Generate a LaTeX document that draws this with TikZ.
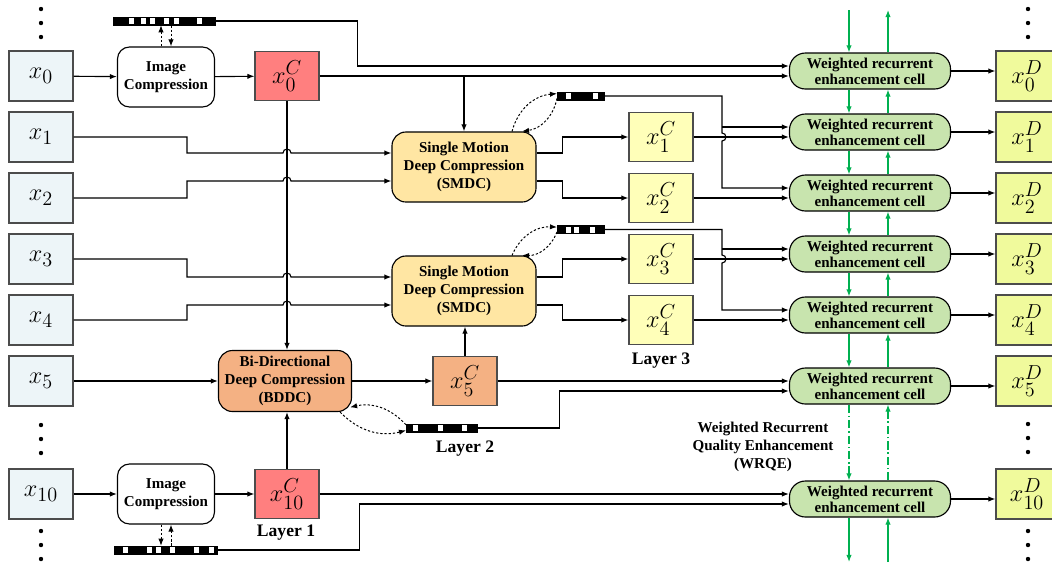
\documentclass[tikz,border=0pt]{standalone}
\usepackage{amsmath}
\usepackage[no-math]{fontspec}
\setmainfont{Liberation Serif}
\usepackage{tikz}
\usetikzlibrary{shapes,arrows.meta,positioning}

\definecolor{inblue}{HTML}{EDF5F8}
\definecolor{cred}{HTML}{FF7F7F}
\definecolor{corange}{HTML}{F4B183}
\definecolor{cyellow}{HTML}{FFFFB9}
\definecolor{dlime}{HTML}{F0FA9C}
\definecolor{smdcfill}{HTML}{FFE6A3}
\definecolor{cellgreen}{HTML}{C8E4AE}
\definecolor{wgreen}{HTML}{00B050}

\newcommand{\boxfont}{\fontsize{19}{21}\selectfont}
\newcommand{\lblfont}{\fontsize{10.7}{13}\selectfont\bfseries}

\tikzset{
  inbox/.style={ draw=black!70, fill=inblue, minimum width=1.6cm, minimum height=1.25cm, inner sep=0pt, font=\boxfont }
}
\tikzset{
  cbox/.style={ draw=black!70, minimum width=1.6cm, minimum height=1.225cm, inner sep=0pt, font=\boxfont }
}
\tikzset{
  dbox/.style={ draw=black!70, fill=dlime, minimum width=1.55cm, minimum height=1.25cm, inner sep=0pt, font=\boxfont }
}
\tikzset{
  icbox/.style={ draw, rounded corners=0.3cm, fill=white, minimum width=2.425cm, minimum height=1.5cm, align=center, font=\lblfont }
}
\tikzset{
  mdbox/.style={ draw, rounded corners=0.35cm, fill=smdcfill, minimum width=3.6cm, minimum height=1.75cm, align=center, font=\lblfont }
}
\tikzset{
  bdbox/.style={ draw, rounded corners=0.35cm, fill=corange, minimum width=3.325cm, minimum height=1.525cm, align=center, font=\lblfont }
}
\tikzset{
  wcell/.style={ draw, rounded corners=0.4cm, fill=cellgreen, minimum width=4.025cm, minimum height=0.9cm, inner sep=0pt, align=center, font=\fontsize{10.7}{11.5}\selectfont\bfseries }
}
\tikzset{
  bits/.style={ draw, fill=black, rectangle, minimum height=0.2cm, inner sep=0pt, line width=0.4pt }
}
\tikzset{
  layerlbl/.style={ font=\fontsize{12.5}{14}\selectfont\bfseries }
}
\tikzset{
  dotarrow/.style={ ->, dash pattern=on 1.6pt off 1.4pt, line width=0.7pt }
}
\tikzset{
  garrow/.style={ ->, draw=wgreen, line width=0.8pt }
}

% bit stream: name, left x, centre y, width, white slots
\newcommand{\bitstream}[5]{%
  \node[bits, minimum width=#4, anchor=west] (#1) at (#2,#3) {};
  \foreach \w in {#5}
    \fill[white] (#2+\w,#3-3) rectangle ++(5,6);
}

\begin{document}
\begin{tikzpicture}[x=0.025cm, y=-0.025cm, line width=0.8pt, >={Latex[length=5pt,width=3.8pt]}]
      \useasboundingbox (0,0) rectangle (1052,562);

      % inputs
      \node[inbox] (x0) at (41,76) {$x_0$};
      \node[inbox] (x1) at (41,137) {$x_1$};
      \node[inbox] (x2) at (41,198) {$x_2$};
      \node[inbox] (x3) at (41,259) {$x_3$};
      \node[inbox] (x4) at (41,320) {$x_4$};
      \node[inbox] (x5) at (41,381) {$x_5$};
      \node[inbox] (x10) at (41,494) {$x_{10}$};

      % layer 1
      \node[icbox] (ic0) at (166,77) {Image\\Compression};
      \node[icbox] (ic10) at (166,494) {Image\\Compression};
      \node[cbox, fill=cred] (xc0) at (287,76) {$x_0^C$};
      \node[cbox, fill=cred] (xc10) at (287,494) {$x_{10}^C$};
      \bitstream{bs0}{113}{21}{2.55cm}{16,28,37,51,61,84}
      \bitstream{bs10}{114}{550}{2.575cm}{9,33,42,56,80,95}

      % layer 2
      \node[bdbox] (bddc) at (285,381) {Bi-Directional\\Deep Compression\\(BDDC)};
      \node[cbox, fill=corange] (xc5) at (465,381) {$x_5^C$};
      \bitstream{bs5}{406}{428}{1.775cm}{7,32,56}

      % layer 3
      \node[mdbox] (smdc1) at (464,167) {Single Motion\\Deep Compression\\(SMDC)};
      \node[mdbox] (smdc2) at (464,291) {Single Motion\\Deep Compression\\(SMDC)};
      \node[cbox, fill=cyellow] (xc1) at (661,137) {$x_1^C$};
      \node[cbox, fill=cyellow] (xc2) at (661,198) {$x_2^C$};
      \node[cbox, fill=cyellow] (xc3) at (661,259) {$x_3^C$};
      \node[cbox, fill=cyellow] (xc4) at (661,320) {$x_4^C$};
      \bitstream{bs1}{557}{96}{1.175cm}{9,36}
      \bitstream{bs3}{557}{229.5}{1.175cm}{9,17,33}

      \node[layerlbl] (lay1) at (286,533) {Layer 1};
      \node[layerlbl] (lay2) at (465,449) {Layer 2};
      \node[layerlbl] (lay3) at (661,361) {Layer 3};

      % WRQE
      \foreach \i/\y in {0/71,1/132,2/193,3/254,4/315,5/386,10/499} {
        \node[wcell] (cell\i) at (870,\y) {Weighted recurrent\\enhancement cell};
        \coordinate (in\i a) at ([yshift=0.125cm]cell\i.west);
        \coordinate (in\i b) at ([yshift=-0.125cm]cell\i.west);
      }
      \foreach \i/\y in {0/76,1/137,2/198,3/259,4/320,5/381,10/494}
        \node[dbox] (xd\i) at (1027,\y) {$x_{\i}^D$};
      \node[font=\lblfont, align=center] (wrqe) at (763,447) {Weighted Recurrent\\Quality Enhancement\\(WRQE)};

      \foreach \y in {9,23,37,425,439,453,531,545,559}
        \fill (41,\y) circle[radius=0.055cm];
      \foreach \y in {9,23,37,424,438,452,531,545,559}
        \fill (1028,\y) circle[radius=0.055cm];

      \begin{scope}[->]
        \draw (x0) -- (ic0);
        \draw (ic0) -- (xc0);
        \draw (x10) -- (ic10);
        \draw (ic10) -- (xc10);
        \draw (x5) -- (bddc);
        \draw (bddc) -- (xc5);
        \draw (xc0.south) -- (xc0.south |- bddc.north);
        \draw (xc10.north) -- (xc10.north |- bddc.south);
        \draw (xc5.north) -- (xc5.north |- smdc2.south);
        \draw (xc0.east -| smdc1.north) -- (smdc1.north);

        % inputs hopping over the x0C line
        \draw (x1.east) -- (187,137) |- (283,153) arc[start angle=180, end angle=0, radius=0.1cm] -- ([yshift=0.35cm]smdc1.west);
        \draw (x2.east) -- (187,198) |- (283,181) arc[start angle=180, end angle=0, radius=0.1cm] -- ([yshift=-0.35cm]smdc1.west);
        \draw (x3.east) -- (187,259) |- (283,277) arc[start angle=180, end angle=0, radius=0.1cm] -- ([yshift=0.35cm]smdc2.west);
        \draw (x4.east) -- (187,320) |- (283,305) arc[start angle=180, end angle=0, radius=0.1cm] -- ([yshift=-0.35cm]smdc2.west);

        \draw ([yshift=0.35cm]smdc1.east) -- ++(26,0) |- (xc1);
        \draw ([yshift=-0.35cm]smdc1.east) -- ++(26,0) |- (xc2);
        \draw ([yshift=0.35cm]smdc2.east) -- ++(26,0) |- (xc3);
        \draw ([yshift=-0.35cm]smdc2.east) -- ++(26,0) |- (xc4);

        % bit streams to the enhancement cells
        \draw (bs0.east) -- ++(142,0) |- (in0a);
        \draw (bs10.east) -- ++(142,0) |- (in10b);
        \draw (bs5.east) -- ++(82,0) |- (in5b);
        \coordinate (j1) at (722,96);
        \coordinate (j3) at (722,229.5);
        \draw (bs1.east) -- (j1) -- (722,133) arc[start angle=90, end angle=-90, radius=0.1cm] |- (in2a);
        \draw (in1a -| j1) -- (in1a);
        \draw (bs3.east) -- (j3) -- (722,255) arc[start angle=90, end angle=-90, radius=0.1cm] |- (in4a);
        \draw (in3a -| j3) -- (in3a);

        \draw (xc0.east) -- (xc0.east -| cell0.west);
        \draw (xc1.east) -- (xc1.east -| cell1.west);
        \draw (xc2.east) -- (xc2.east -| cell2.west);
        \draw (xc3.east) -- (xc3.east -| cell3.west);
        \draw (xc4.east) -- (xc4.east -| cell4.west);
        \draw (xc5.east) -- (xc5.east -| cell5.west);
        \draw (xc10.east) -- (xc10.east -| cell10.west);

        \foreach \i in {0,1,2,3,4,5,10}
          \draw (cell\i.east) -- (cell\i.east -| xd\i.west);
      \end{scope}

      % encode / decode
      \draw[dotarrow] ([xshift=-0.125cm]ic0.north) -- ([xshift=-0.125cm]ic0.north |- bs0.south);
      \draw[dotarrow] ([xshift=0.125cm]ic0.north |- bs0.south) -- ([xshift=0.125cm]ic0.north);
      \draw[dotarrow] ([xshift=-0.125cm]ic10.south) -- ([xshift=-0.125cm]ic10.south |- bs10.north);
      \draw[dotarrow] ([xshift=0.125cm]ic10.south |- bs10.north) -- ([xshift=0.125cm]ic10.south);
      \draw[dotarrow] ([xshift=1.2cm]smdc1.north) to[bend left=35] ([yshift=0.06cm]bs1.west);
      \draw[dotarrow] ([yshift=-0.06cm]bs1.west) to[bend left=35] ([xshift=1.45cm]smdc1.north);
      \draw[dotarrow] ([xshift=1.2cm]smdc2.north) to[bend left=35] ([yshift=0.06cm]bs3.west);
      \draw[dotarrow] ([yshift=-0.06cm]bs3.west) to[bend left=35] ([xshift=1.45cm]smdc2.north);
      \draw[dotarrow] ([xshift=-0.3cm]bddc.south east) to[bend right=30] ([yshift=-0.06cm]bs5.west);
      \draw[dotarrow] ([yshift=0.08cm]bs5.west) to[bend right=30] ([xshift=-0.05cm,yshift=0.12cm]bddc.south east);

      % recurrent links
      \coordinate (gtop) at (0,10);
      \coordinate (gbot) at (0,562);
      \draw[garrow] ([xshift=-0.525cm]cell0.north |- gtop) -- ([xshift=-0.525cm]cell0.north);
      \draw[garrow] ([xshift=0.45cm]cell0.north) -- ([xshift=0.45cm]cell0.north |- gtop);
      \foreach \a/\b in {0/1,1/2,2/3,3/4,4/5} {
        \draw[garrow] ([xshift=-0.525cm]cell\a.south) -- ([xshift=-0.525cm]cell\b.north);
        \draw[garrow] ([xshift=0.45cm]cell\b.north) -- ([xshift=0.45cm]cell\a.south);
      }
      \draw[garrow, dash pattern=on 6pt off 2pt on 1pt off 2pt] ([xshift=-0.525cm]cell5.south) -- ([xshift=-0.525cm]cell10.north);
      \draw[garrow, dash pattern=on 6pt off 2pt on 1pt off 2pt] ([xshift=0.45cm]cell10.north) -- ([xshift=0.45cm]cell5.south);
      \draw[garrow] ([xshift=-0.525cm]cell10.south) -- ([xshift=-0.525cm]cell10.south |- gbot);
      \draw[garrow] ([xshift=0.45cm]cell10.south |- gbot) -- ([xshift=0.45cm]cell10.south);
    \end{tikzpicture}
\end{document}
